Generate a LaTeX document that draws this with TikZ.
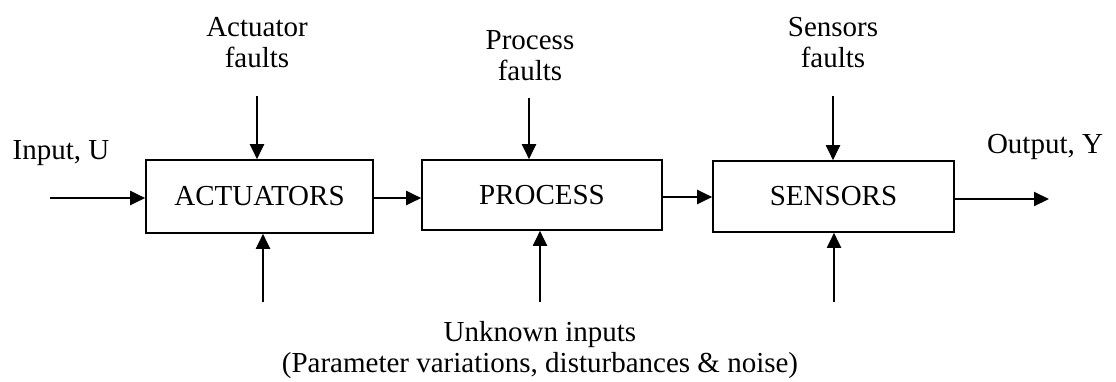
\documentclass[tikz,border=0pt]{standalone}
\usepackage{fontspec}
\setmainfont{Liberation Serif}
\usetikzlibrary{arrows.meta}
\begin{document}
\begin{tikzpicture}[x=1pt,y=-1pt,
  font=\fontsize{29}{31}\selectfont,
  block/.style={draw,line width=1.6pt,inner sep=0pt},
  arr/.style={line width=2pt,-{Triangle[length=15pt,width=14pt]}},
  lbl/.style={inner sep=0pt,align=center,anchor=base}]
\useasboundingbox (0,0) rectangle (1116,381);

% main blocks
\node[block,minimum width=227pt,minimum height=73pt] (act) at (259.5,196.5) {ACTUATORS};
\node[block,minimum width=240pt,minimum height=70pt] (proc) at (542,195) {PROCESS};
\node[block,minimum width=241pt,minimum height=71pt] (sens) at (833.5,196.5) {SENSORS};

% labels (anchored at the baseline of their last line)
\node[lbl] (lu) at (61,159) {Input, U};
\node[lbl] (ly) at (1045,153) {Output, Y};
\node[lbl] (laf) at (257,67) {Actuator\\faults};
\node[lbl] (lpf) at (530,80) {Process\\faults};
\node[lbl] (lsf) at (833,67) {Sensors\\faults};
\node[lbl] (lun) at (540,372) {Unknown inputs\\(Parameter variations, disturbances \& noise)};

% free ends of the signal arrows
\coordinate (uin) at (50,198);
\coordinate (yout) at (1049,199);
\coordinate (taf) at (257,96);
\coordinate (tpf) at (529,98);
\coordinate (tsf) at (833,96);
\coordinate (bact) at (263,302);
\coordinate (bproc) at (540,302);
\coordinate (bsens) at (834,302);

% signal flow
\draw[arr] (uin) -- (uin -| act.west);
\draw[arr] (act.east |- 0,198) -- (proc.west |- 0,198);
\draw[arr] (proc.east |- 0,197) -- (sens.west |- 0,197);
\draw[arr] (sens.east |- yout) -- (yout);

% faults from above
\draw[arr] (taf) -- (taf |- act.north);
\draw[arr] (tpf) -- (tpf |- proc.north);
\draw[arr] (tsf) -- (tsf |- sens.north);

% unknown inputs from below
\draw[arr] (bact) -- (bact |- act.south);
\draw[arr] (bproc) -- (bproc |- proc.south);
\draw[arr] (bsens) -- (bsens |- sens.south);
\end{tikzpicture}
\end{document}
